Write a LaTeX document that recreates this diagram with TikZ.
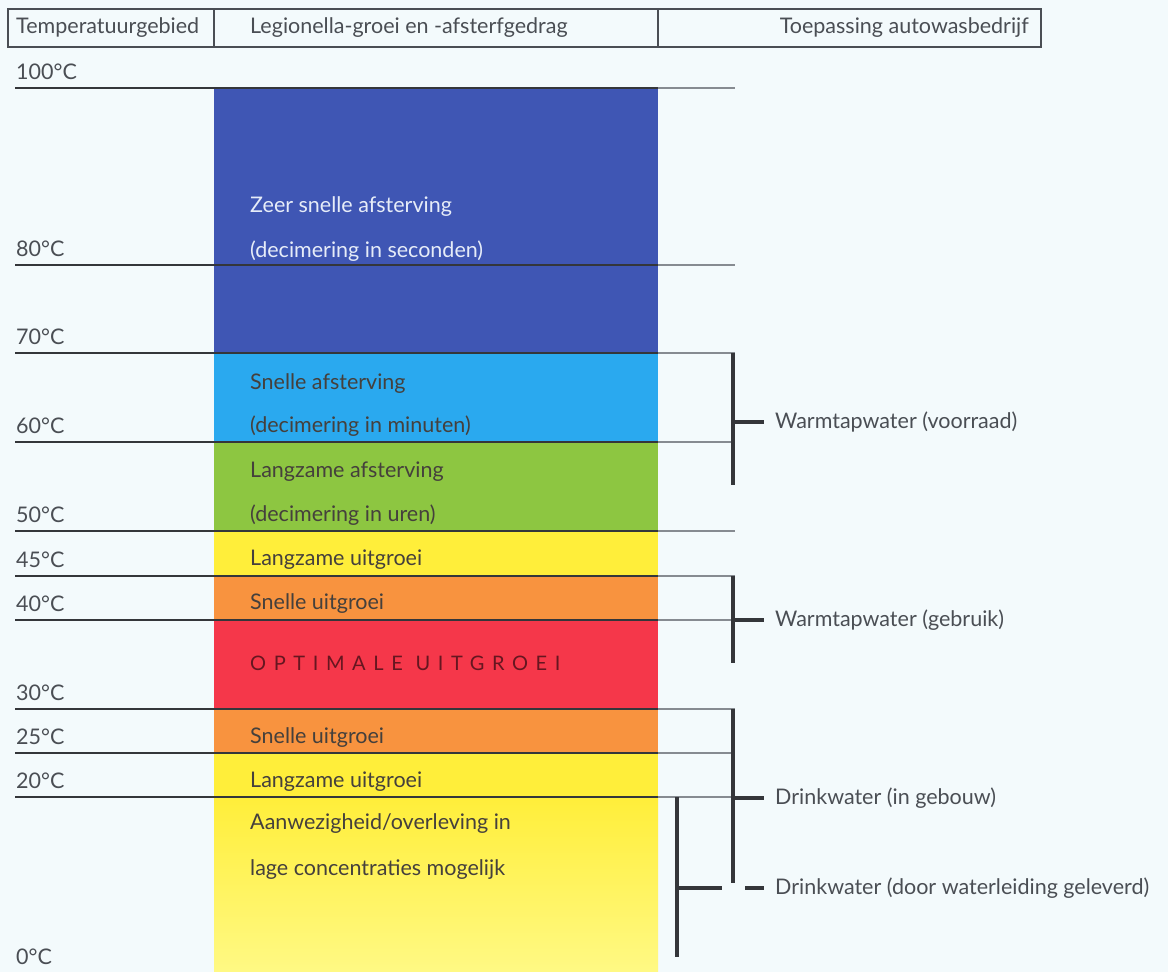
\documentclass[tikz,border=0pt]{standalone}
\usepackage{fontspec}
\setmainfont{Lato}
\usetikzlibrary{positioning}

\definecolor{waterbg}{HTML}{F3FAFC}
\definecolor{inkgrey}{HTML}{4A4E54}
\definecolor{scalegrey}{HTML}{34363A}
\definecolor{palegrey}{HTML}{868B91}
\definecolor{zeerblauw}{HTML}{3F56B4}
\definecolor{lichtblauw}{HTML}{2AA9EF}
\definecolor{groen}{HTML}{8DC641}
\definecolor{geel}{HTML}{FFEE3A}
\definecolor{lichtgeel}{HTML}{FFF984}
\definecolor{oranje}{HTML}{F8933F}
\definecolor{rood}{HTML}{F5374A}
\definecolor{donkerrood}{HTML}{661620}
\definecolor{bandtekst}{HTML}{45403C}
\definecolor{lichttekst}{HTML}{E6ECF8}

\begin{document}
\begin{tikzpicture}[
    x=1pt, y=-1pt,
    every node/.style={inner sep=0pt, font=\fontsize{21.5}{24}\selectfont},
    kop/.style={anchor=west, text=inkgrey},
    temp/.style={anchor=base west, text=inkgrey},
    bandlabel/.style={anchor=base west, text=bandtekst},
    toepassing/.style={anchor=west, text=inkgrey},
    schaal/.style={draw=scalegrey, line width=2.2pt},
    verleng/.style={draw=palegrey, line width=1.5pt},
    haak/.style={draw=scalegrey, line width=3.2pt}
    ]
    \fill[waterbg] (0,0) rectangle (1168,972);
    \useasboundingbox (0,0) rectangle (1168,972);

    % kopregel
    \draw[inkgrey, line width=1.3pt] (8,9) rectangle (1041,47);
    \draw[inkgrey, line width=1.3pt] (214,9) -- (214,47) (658,9) -- (658,47);
    \node[kop] (kopTemp) at (16,28) {Temperatuurgebied};
    \node[kop] (kopGroei) at (250,28) {Legionella-groei en -afsterfgedrag};
    \node[kop, anchor=east] (kopToep) at (1029,28) {Toepassing autowasbedrijf};

    % kleurbanden
    \fill[zeerblauw] (214,88) rectangle (658,353);
    \fill[lichtblauw] (214,353) rectangle (658,442);
    \fill[groen] (214,442) rectangle (658,531);
    \fill[geel] (214,531) rectangle (658,576);
    \fill[oranje] (214,576) rectangle (658,620);
    \fill[rood] (214,620) rectangle (658,709);
    \fill[oranje] (214,709) rectangle (658,753);
    \fill[geel] (214,753) rectangle (658,797);
    \shade[top color=geel, bottom color=lichtgeel] (214,797) rectangle (658,972);

    \node[bandlabel, text=lichttekst] (zeer1) at (250,212) {Zeer snelle afsterving};
    \node[bandlabel, text=lichttekst] (zeer2) at (250,257) {(decimering in seconden)};
    \node[bandlabel] (snel1) at (250,389) {Snelle afsterving};
    \node[bandlabel] (snel2) at (250,432) {(decimering in minuten)};
    \node[bandlabel] (langz1) at (250,477) {Langzame afsterving};
    \node[bandlabel] (langz2) at (250,521) {(decimering in uren)};
    \node[bandlabel] (uitgr45) at (250,565) {Langzame uitgroei};
    \node[bandlabel] (uitgr40) at (250,609) {Snelle uitgroei};
    \node[bandlabel, text=donkerrood, font=\fontsize{20}{22}\selectfont\addfontfeature{LetterSpace=38}] (optimaal) at (250,670) {OPTIMALE UITGROEI};
    \node[bandlabel] (uitgr25) at (250,743) {Snelle uitgroei};
    \node[bandlabel] (uitgr20) at (250,787) {Langzame uitgroei};
    \node[bandlabel] (aanw1) at (250,829) {Aanwezigheid/overleving in};
    \node[bandlabel] (aanw2) at (250,875) {lage concentraties mogelijk};

    % temperatuurschaal
    \foreach \t/\h in {100/88, 80/265, 70/353, 60/442, 50/531, 45/576, 40/620, 30/709, 25/753, 20/797}{
      \coordinate (links\t) at (15,\h);
      \coordinate (kolom\t) at (658,\h);
      \coordinate (rechts\t) at (735,\h);
      \draw[schaal] (links\t) -- (kolom\t);
      \draw[verleng] (kolom\t) -- (rechts\t);
      \node[temp] (lbl\t) at (16,{\h-9}) {\t°C};
    }
    \node[temp] (lbl0) at (16,964) {0°C};

    % toepassingen
    \node[toepassing] (voorraad) at (775,422) {Warmtapwater (voorraad)};
    \node[toepassing] (gebruik) at (775,620) {Warmtapwater (gebruik)};
    \node[toepassing] (gebouw) at (775,798) {Drinkwater (in gebouw)};
    \node[toepassing] (leiding) at (775,888) {Drinkwater (door waterleiding geleverd)};

    \coordinate (voorraadBoven) at (733,353);
    \coordinate (voorraadOnder) at (733,485);
    \coordinate (voorraadMid) at (733,422);
    \draw[haak] (voorraadBoven) -- (voorraadOnder);
    \draw[haak, shorten >=11pt] (voorraadMid) -- (voorraad.west);

    \coordinate (gebruikBoven) at (733,576);
    \coordinate (gebruikOnder) at (733,663);
    \coordinate (gebruikMid) at (733,620);
    \draw[haak] (gebruikBoven) -- (gebruikOnder);
    \draw[haak, shorten >=11pt] (gebruikMid) -- (gebruik.west);

    \coordinate (gebouwBoven) at (733,709);
    \coordinate (gebouwOnder) at (733,883);
    \coordinate (gebouwMid) at (733,798);
    \draw[haak] (gebouwBoven) -- (gebouwOnder);
    \draw[haak, shorten >=11pt] (gebouwMid) -- (gebouw.west);

    \coordinate (leidingBoven) at (677,797);
    \coordinate (leidingOnder) at (677,957);
    \coordinate (leidingMid) at (677,888);
    \draw[haak] (leidingBoven) -- (leidingOnder);
    \draw[haak, shorten >=11pt, dash pattern=on 45pt off 23pt on 30pt] (leidingMid) -- (leiding.west);
\end{tikzpicture}
\end{document}
